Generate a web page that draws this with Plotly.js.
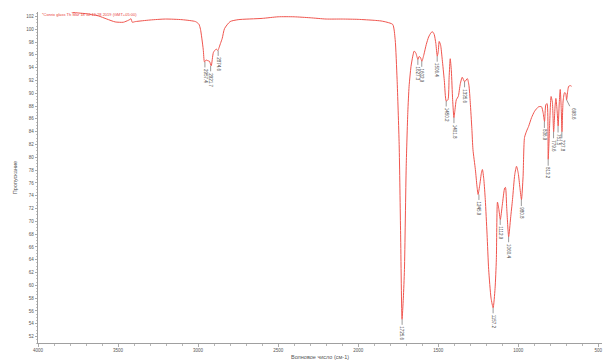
<!DOCTYPE html>
<html>
<head>
<meta charset="utf-8">
<script src="https://cdn.plot.ly/plotly-3.0.1.min.js"></script>
<style>html,body{margin:0;padding:0;background:#fff;}#chart{width:605px;height:363px;}</style>
</head>
<body>
<div id="chart"></div>
<script>
// Wavenumber (cm-1) and transmittance (%)
const wavenumber = [4000,3900,3820,3781,3706,3624,3570,3518,3467,3436,3425,3419,3411,3392,3300,3204,3100,3016,2995,2985,2968,2960,2950,2940,2929,2918,2904,2887,2877,2860,2849,2835,2800,2750,2600,2500,2400,2300,2200,2100,2000,1900,1857,1820,1784,1769,1757,1744,1735,1726,1718,1711,1700,1690,1682,1670,1659,1650,1640,1627,1619,1611,1602,1590,1575,1560,1544,1535,1525,1515,1506,1500,1494,1485,1475,1462,1450,1439,1432,1425,1418,1410,1402,1395,1387,1375,1362,1350,1335,1318,1308,1300,1290,1283,1268,1258,1251,1240,1230,1224,1215,1206,1195,1185,1170,1157,1145,1137,1130,1122,1112,1100,1085,1080,1072,1060,1048,1036,1022,1011,1000,990,980,970,961,948,936,917,898,873,855,845,836,828,820,813,805,795,787,779,770,765,758,751,744,738,732,727,720,711,704,698,691,685,675,667];
const transmittance = [104.5,103.8,103.1,102.65,102.45,102.1,101.6,101.15,101.1,101.4,101.55,101.65,101.1,101.2,101.45,101.6,101.5,101.2,100.8,100.0,96.9,94.9,95.2,95.1,95.0,94.3,96.4,96.9,96.7,97.8,98.6,100.1,101.2,101.5,101.7,101.95,101.95,101.8,101.6,101.6,101.55,101.4,101.3,101.1,100.75,98.4,92.2,82,68,54.7,58,62.5,78.6,87,91.1,94.2,95.8,96.6,96.3,95.3,95.75,95.6,95.0,96.0,97.6,98.8,99.5,99.6,99.2,97.8,95.8,96.5,98.1,97.5,95.3,92,88.8,89.0,92.5,95.4,93.5,89,86.2,87.5,89.0,89.5,91.5,92.5,91.8,92.3,91.2,88.6,84.5,81.2,78.1,75.5,74.2,75.8,77.6,78.1,76.5,73.4,68,62.5,58,56.5,59.5,64,73,72,70.3,72.5,75.2,75.3,72,67.6,70.5,73.4,77.3,78.6,77.5,75.3,73.4,77,83.1,84.1,84.8,86.2,87.2,87.9,87.9,87.0,85.6,88.2,88.4,79.7,84.5,89.5,88.6,84.0,88.0,89.2,87.5,84.9,88.5,90.6,87.8,84.0,88.8,90.1,90.0,89.0,90.4,91.1,91.2,91.1];

// Peak labels
const peakWn = [2957.4,2921.7,2874.6,1725.6,1627.3,1602.9,1506.4,1450.2,1401.8,1335.6,1245.9,1157.2,1112.9,1060.4,980.8,836.9,813.2,779.6,751.5,727.8,698.6];
const peakT  = [94.9,94.3,96.7,54.7,95.3,95.0,95.8,88.8,86.2,91.8,74.2,56.5,70.3,67.6,73.4,85.6,79.7,84.0,84.9,84.0,89.0];
const peakAx = [0,0,0,0,0,0,0,0,0,0,0,0,0,0,0,0,0,0,0,0,7];

const headerText = "*Conrix glass Th Mar 18 12:19:28 2019 (GMT+05:00)";
const xTitle = "Волновое число (см-1)";
const yTitle = "Пропускание";

const annotations = peakWn.map((w, i) => ({
  x: w, y: peakT[i], xref: 'x', yref: 'y',
  text: peakWn[i].toFixed(1), textangle: 90,
  showarrow: true, arrowhead: 0, arrowwidth: 0.6, arrowcolor: '#555',
  ax: peakAx[i], ay: 14, standoff: 0,
  font: {family: 'Liberation Sans, Arial, sans-serif', size: 4.5, color: '#444'}
}));
annotations.push({
  xref: 'paper', yref: 'paper', x: 0.004, y: 0.992, xanchor: 'left', yanchor: 'middle',
  text: headerText, showarrow: false,
  font: {family: 'Liberation Sans, Arial, sans-serif', size: 4, color: '#e8403a'}
});

const trace = {
  x: wavenumber, y: transmittance, type: 'scatter', mode: 'lines',
  line: {color: '#f0554e', width: 1, shape: 'spline', smoothing: 0.6},
  hoverinfo: 'skip'
};

const font = {family: 'Liberation Sans, Arial, sans-serif', size: 4.5, color: '#555'};

const layout = {
  width: 605, height: 363,
  margin: {l: 38, r: 3, t: 12, b: 20},
  paper_bgcolor: '#fff', plot_bgcolor: '#fff',
  showlegend: false,
  font: font,
  xaxis: {
    range: [4000, 477], autorange: false,
    tick0: 500, dtick: 500, ticks: 'outside', ticklen: 3, tickwidth: 0.7, tickcolor: '#888',
    showline: true, linecolor: '#888', linewidth: 0.8,
    showgrid: false, zeroline: false,
    tickfont: {family: font.family, size: 4.5, color: '#555'},
    minor: {dtick: 100, ticks: 'outside', ticklen: 2, tickcolor: '#999', showgrid: false},
    title: {text: xTitle, font: {family: font.family, size: 5.5, color: '#555'}, standoff: 2}
  },
  yaxis: {
    range: [51, 102.7], autorange: false,
    tick0: 52, dtick: 2, ticks: 'outside', ticklen: 2.5, tickwidth: 0.7, tickcolor: '#888',
    showline: true, linecolor: '#888', linewidth: 0.8,
    showgrid: false, zeroline: false,
    tickfont: {family: font.family, size: 4.5, color: '#555'},
    minor: {dtick: 0.5, ticks: 'outside', ticklen: 1.2, tickcolor: '#aaa', showgrid: false},
    title: {text: yTitle, font: {family: font.family, size: 5.5, color: '#555'}, standoff: 8}
  },
  annotations: annotations
};

Plotly.newPlot('chart', [trace], layout, {displayModeBar: false, staticPlot: true});
</script>
</body>
</html>
